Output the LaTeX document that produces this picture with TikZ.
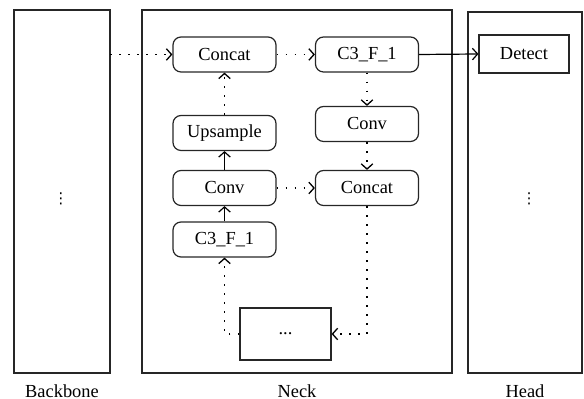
\documentclass[tikz,border=0pt]{standalone}
\usepackage{fontspec}
\setmainfont{Liberation Serif}
\newfontfamily\symfont{DejaVu Sans}
\usetikzlibrary{math,arrows.meta}

\begin{document}
\begin{tikzpicture}[x=0.5pt,y=-0.5pt,
  font=\rmfamily\fontsize{9.2}{11}\selectfont,
  frame/.style={draw=black!85,line width=0.65pt,inner sep=0pt,outer sep=0pt},
  layer/.style={draw=black!85,line width=0.6pt,rounded corners=4pt,minimum width=51.5pt,minimum height=17.5pt,inner sep=0pt},
  block/.style={draw=black!85,line width=0.6pt,inner sep=0pt},
  dotline/.style={line width=0.65pt,dash pattern=on 0.75pt off 3.75pt},
  solidline/.style={line width=0.6pt},
  tip/.style={-{Straight Barb[length=2.6pt,width=5.8pt]}},
  vdots/.style={font=\symfont\fontsize{7.5}{8}\selectfont,inner sep=0pt}
]
  \tikzmath{
    real \colL,\colR,\rowTop,\rowMid,\rowLow;
    \colL=224.5;
    \colR=367;
    \rowTop=54.5;
    \rowMid=188;
    \rowLow=334;
  }
  \useasboundingbox (0,0) rectangle (584,399);

  % stages
  \node[frame,minimum width=48pt,minimum height=181.5pt] (backbone) at (62,191.5) {};
  \node[frame,minimum width=155pt,minimum height=181.5pt] (neck) at (297,191.5) {};
  \node[frame,minimum width=57pt,minimum height=180.5pt] (head) at (525,192.5) {};

  \node[vdots] (bbdots) at (61,199) {⋮};
  \node[vdots] (hddots) at (529,199) {⋮};

  \node (bblabel) at (62,391) {Backbone};
  \node (necklabel) at (297,391) {Neck};
  \node (headlabel) at (525,391) {Head};

  % neck layers
  \node[layer] (concatL) at (\colL,\rowTop) {Concat};
  \node[layer] (upsample) at (\colL,133) {Upsample};
  \node[layer] (convL) at (\colL,\rowMid) {Conv};
  \node[layer] (cfL) at (\colL,239.5) {C3\_F\_1};
  \node[layer] (cfR) at (\colR,\rowTop) {C3\_F\_1};
  \node[layer] (convR) at (\colR,124) {Conv};
  \node[layer] (concatR) at (\colR,\rowMid) {Concat};
  \node[block,minimum width=45.5pt,minimum height=26pt] (more) at (285.5,\rowLow) {...};

  % head
  \node[block,minimum width=45pt,minimum height=19pt] (detect) at (524,54) {Detect};

  % links
  \draw[dotline,tip] (backbone.east |- concatL.west) -- (concatL.west);
  \draw[dotline,tip] (concatL.east) -- (cfR.west);
  \draw[solidline,tip] (cfR.east) -- (detect.west);
  \draw[dotline,tip] (cfR) -- (convR);
  \draw[dotline,tip] (convR) -- (concatR);
  \draw[dotline,tip] (convL) -- (concatR);
  \draw[solidline,tip] (convL) -- (upsample);
  \draw[dotline,tip] (upsample) -- (concatL);
  \draw[solidline,tip] (cfL) -- (convL);
  \draw[dotline,tip] (concatR.south) |- (more.east);
  \draw[dotline,tip] (more.west) -| (cfL.south);
\end{tikzpicture}
\end{document}
